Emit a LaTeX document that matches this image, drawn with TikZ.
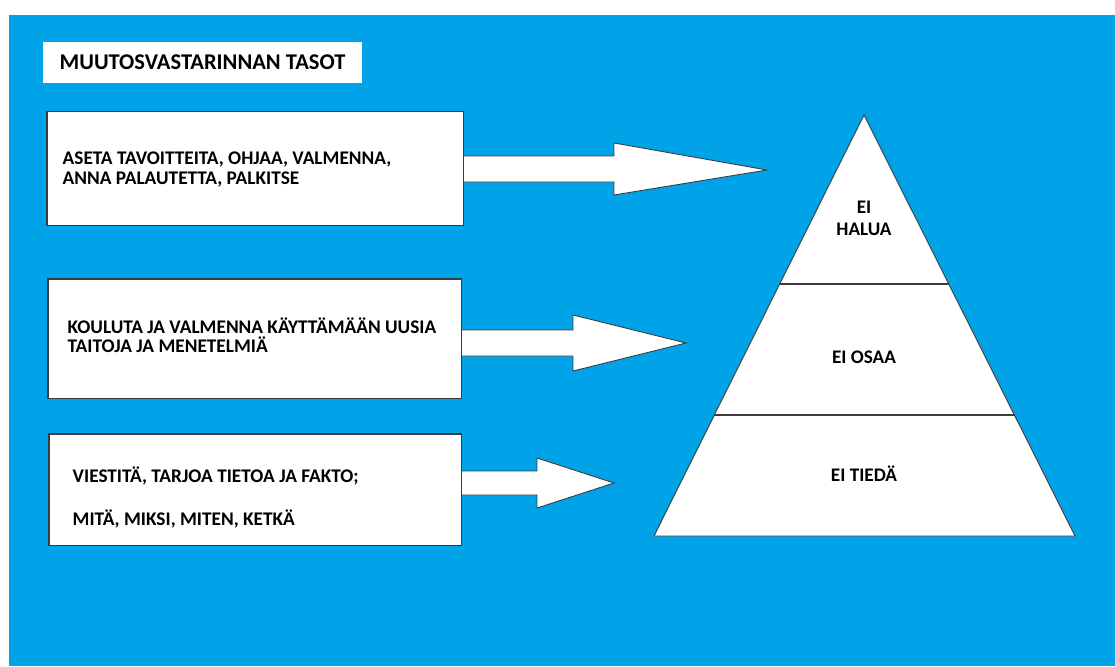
\documentclass[tikz,border=0pt]{standalone}
\usepackage{fontspec}
\setmainfont{Carlito}
\usetikzlibrary{positioning,calc}

\definecolor{paintblue}{RGB}{0,162,232}
\definecolor{edgegray}{RGB}{60,60,60}

\tikzset{
	box/.style={draw=edgegray, fill=white, line width=1pt, inner sep=0pt},
	boxtext/.style={inner sep=0pt, align=left, font=\bfseries\fontsize{19.3}{19.5}\selectfont},
	blockarrow/.style={draw=edgegray, fill=white, line width=0.9pt, line join=miter},
	level/.style={inner sep=0pt, align=center, font=\bfseries\fontsize{19.2}{22}\selectfont}
}

\begin{document}
\begin{tikzpicture}[x=1pt,y=-1pt]
	\useasboundingbox (0,0) rectangle (1115,666);
	\fill[paintblue] (9,15) rectangle (1115,666);

	% otsikko
	\node[fill=white, inner sep=0pt, minimum width=319, minimum height=41, font=\bfseries\fontsize{22.5}{24}\selectfont] (title) at (202.5,62.5) {MUUTOSVASTARINNAN TASOT};

	% laatikot
	\node[box, minimum width=416, minimum height=113] (B1) at (255,168.5) {};
	\node[box, minimum width=413, minimum height=119] (B2) at (254.5,338.5) {};
	\node[box, minimum width=412, minimum height=111] (B3) at (255,489.5) {};

	% nuolet
	\coordinate (T1) at (767,170);
	\coordinate (T2) at (686,343);
	\coordinate (T3) at (614,483);
	\draw[blockarrow] (B1.east |- 0,156) -- (614,156) -- (614,143) -- (T1) -- (614,195) -- (614,182) -- (B1.east |- 0,182) -- cycle;
	\draw[blockarrow] (B2.east |- 0,330) -- (573,330) -- (573,315) -- (T2) -- (573,371) -- (573,356) -- (B2.east |- 0,356) -- cycle;
	\draw[blockarrow] (B3.east |- 0,471) -- (537,471) -- (537,458) -- (T3) -- (537,508) -- (537,495) -- (B3.east |- 0,495) -- cycle;

	% laatikot uudelleen nuolten paalle
	\draw[draw=edgegray, line width=1pt] (B1.north west) rectangle (B1.south east);
	\draw[draw=edgegray, line width=1pt] (B2.north west) rectangle (B2.south east);
	\draw[draw=edgegray, line width=1pt] (B3.north west) rectangle (B3.south east);

	\node[boxtext, right=16pt of B1.west, yshift=-1pt] (L1) {ASETA TAVOITTEITA, OHJAA, VALMENNA,\\ANNA PALAUTETTA, PALKITSE};
	\node[boxtext, right=20pt of B2.west, yshift=3.5pt] (L2) {KOULUTA JA VALMENNA KÄYTTÄMÄÄN UUSIA\\TAITOJA JA MENETELMIÄ};
	\node[boxtext, right=24pt of B3.west, yshift=-8pt] (L3) {VIESTITÄ, TARJOA TIETOA JA FAKTO;\\[23.5pt]MITÄ, MIKSI, MITEN, KETKÄ};

	% pyramidi
	\coordinate (apex) at (864,115);
	\coordinate (bl) at (654,536);
	\coordinate (br) at (1075,536);
	\draw[fill=white, draw=edgegray, line width=0.9pt] (apex) -- (bl) -- (br) -- cycle;
	\draw[edgegray, line width=1.2pt] ($(apex)!0.4014!(bl)$) -- ($(apex)!0.4014!(br)$);
	\draw[edgegray, line width=1.2pt] ($(apex)!0.7126!(bl)$) -- ($(apex)!0.7126!(br)$);

	\node[level] (halua) at (864,218) {EI\\HALUA};
	\node[level] (osaa) at (864,357) {EI OSAA};
	\node[level] (tieda) at (864,474) {EI TIEDÄ};
\end{tikzpicture}
\end{document}
